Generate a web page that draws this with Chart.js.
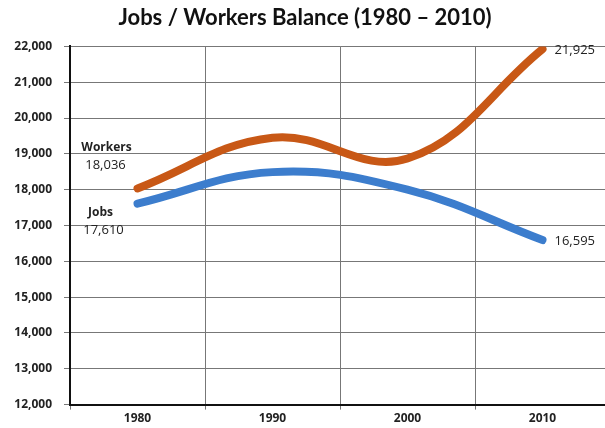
<!DOCTYPE html>
<html>
<head>
<meta charset="utf-8">
<script src="https://cdn.jsdelivr.net/npm/chart.js@4/dist/chart.umd.min.js"></script>
<style>
  html, body { margin: 0; padding: 0; background: #fff; overflow: hidden; }
  #wrap { width: 612px; height: 428px; }
</style>
</head>
<body>
<div id="wrap"><canvas id="balanceChart" width="612" height="428"></canvas></div>
<script>
const years = ['1980', '1990', '2000', '2010'];
const workers = [18036, 19450, 18870, 21925];
const jobs = [17610, 18490, 18000, 16595];
const yTicks = [12000, 13000, 14000, 15000, 16000, 17000, 18000, 19000, 20000, 21000, 22000];

const fmt = v => v.toLocaleString('en-US');

// end labels: series name + first value on the left, last value on the right
const endLabels = {
  id: 'endLabels',
  afterDatasetsDraw(chart) {
    const ctx = chart.ctx;
    ctx.save();
    ctx.fillStyle = '#222';
    ctx.textBaseline = 'middle';
    chart.data.datasets.forEach((ds, i) => {
      const pts = chart.getDatasetMeta(i).data;
      const first = pts[0];
      const last = pts[pts.length - 1];
      ctx.textAlign = 'center';
      if (i === 0) {
        ctx.font = 'bold 12px "Open Sans", sans-serif';
        ctx.fillText(ds.label, first.x - 31, first.y - 41);
        ctx.font = '13px "Open Sans", sans-serif';
        ctx.fillText(fmt(ds.data[0]), first.x - 32, first.y - 23);
      } else {
        ctx.font = 'bold 12px "Open Sans", sans-serif';
        ctx.fillText(ds.label, first.x - 37, first.y + 9);
        ctx.font = '13px "Open Sans", sans-serif';
        ctx.fillText(fmt(ds.data[0]), first.x - 34, first.y + 27);
      }
      ctx.textAlign = 'left';
      ctx.font = '13px "Open Sans", sans-serif';
      ctx.fillText(fmt(ds.data[ds.data.length - 1]), last.x + 12, last.y + 1);
    });
    ctx.restore();
  }
};

const ctx = document.getElementById('balanceChart').getContext('2d');

new Chart(ctx, {
  type: 'line',
  data: {
    labels: years,
    datasets: [
      {
        label: 'Workers',
        data: workers,
        borderColor: 'rgb(200, 88, 22)',
        borderWidth: 8,
        borderCapStyle: 'round',
        tension: 0.4,
        pointRadius: 0,
        fill: false
      },
      {
        label: 'Jobs',
        data: jobs,
        borderColor: 'rgb(60, 125, 205)',
        borderWidth: 8,
        borderCapStyle: 'round',
        tension: 0.4,
        pointRadius: 0,
        fill: false
      }
    ]
  },
  options: {
    responsive: false,
    animation: false,
    layout: { padding: { left: 0, right: 2, top: 0, bottom: 0 } },
    plugins: {
      legend: { display: false },
      tooltip: { enabled: false },
      title: {
        display: true,
        text: 'Jobs / Workers Balance (1980 \u2013 2010)',
        color: '#111',
        font: { family: 'Lato, "Open Sans", sans-serif', size: 22, weight: 'bold' },
        padding: { top: 5, bottom: 15 }
      }
    },
    scales: {
      x: {
        type: 'category',
        offset: true,
        grid: {
          offset: true,
          color: '#777',
          lineWidth: 1,
          drawTicks: true,
          tickLength: 5
        },
        border: { color: '#111', width: 2 },
        ticks: {
          color: '#222',
          padding: 2,
          font: { family: '"Open Sans", sans-serif', size: 12, weight: 'bold' }
        }
      },
      y: {
        min: 12000,
        max: 22000,
        afterBuildTicks: scale => {
          scale.ticks = yTicks.map(v => ({ value: v }));
        },
        afterFit: scale => { scale.width = 70; },
        grid: {
          color: '#777',
          lineWidth: 1,
          tickLength: 6
        },
        border: { color: '#111', width: 2 },
        ticks: {
          color: '#222',
          padding: 12,
          font: { family: '"Open Sans", sans-serif', size: 12, weight: 'bold' },
          callback: v => fmt(v)
        }
      }
    }
  },
  plugins: [endLabels]
});
</script>
</body>
</html>
